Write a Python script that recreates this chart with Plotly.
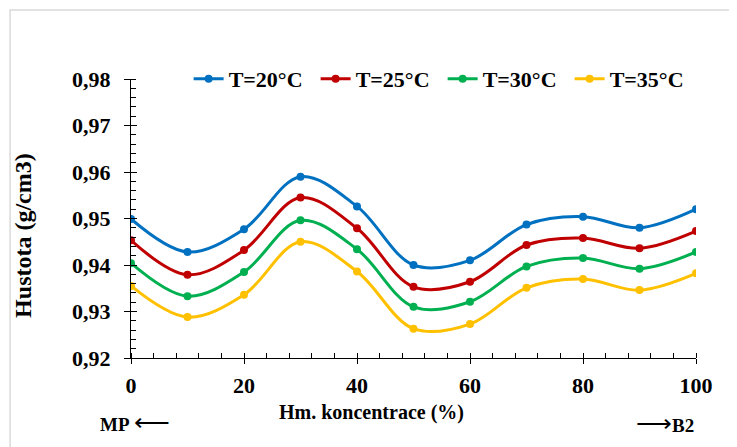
import plotly.graph_objects as go

# ---- data ----
concentration = [0, 10, 20, 30, 40, 50, 60, 70, 80, 90, 100]
series_names = ["T=20°C", "T=25°C", "T=30°C", "T=35°C"]
density_20 = [0.9499, 0.9428, 0.9477, 0.9590, 0.9526, 0.9400, 0.9410, 0.9487, 0.9504, 0.9480, 0.9520]
density_25 = [0.9453, 0.9379, 0.9432, 0.9545, 0.9479, 0.9353, 0.9364, 0.9443, 0.9458, 0.9436, 0.9473]
density_30 = [0.9404, 0.9333, 0.9385, 0.9496, 0.9434, 0.9310, 0.9321, 0.9397, 0.9415, 0.9392, 0.9428]
density_35 = [0.9355, 0.9288, 0.9336, 0.9450, 0.9386, 0.9263, 0.9273, 0.9351, 0.9370, 0.9346, 0.9382]
x_ticks = [0, 20, 40, 60, 80, 100]
y_ticks = [0.92, 0.93, 0.94, 0.95, 0.96, 0.97, 0.98]

colors = ["#0070C0", "#C00000", "#00B050", "#FFC000"]
FONT = "Liberation Serif, Times New Roman, serif"

fig = go.Figure()
for name, vals, col in zip(series_names, [density_20, density_25, density_30, density_35], colors):
    fig.add_trace(go.Scatter(
        x=concentration, y=vals, name=name, mode="lines+markers",
        line=dict(color=col, width=3, shape="spline", smoothing=1.0),
        marker=dict(color=col, size=8),
    ))

# invisible helper trace so the overlay axes (inner half of crossing ticks) are drawn
fig.add_trace(go.Scatter(x=[None], y=[None], xaxis="x2", yaxis="y2",
                         showlegend=False, hoverinfo="skip"))

axis_common = dict(showgrid=False, zeroline=False, showline=True, linecolor="black",
                   linewidth=1.3, tickcolor="black", tickwidth=1.3)

# the page body adds an 8px offset, margins compensate for it
fig.update_layout(
    width=737, height=447,
    margin=dict(l=123, r=49, t=71, b=97, autoexpand=False),
    paper_bgcolor="white", plot_bgcolor="white",
    separators=", ",
    font=dict(family=FONT, color="black"),
    showlegend=True,
    legend=dict(orientation="h", x=0.102, xanchor="left", y=1.0, yanchor="middle",
                font=dict(family=FONT, size=22, color="black", weight="bold"),
                entrywidth=82, entrywidthmode="pixels", bgcolor="rgba(0,0,0,0)",
                itemclick=False),
    xaxis=dict(range=[0, 100], tickvals=x_ticks, ticks="outside", ticklen=5,
               minor=dict(dtick=4, ticks="inside", ticklen=5, tickcolor="black", tickwidth=1),
               tickfont=dict(family=FONT, size=22, color="black", weight="bold"),
               ticklabelstandoff=2,
               anchor="y", **axis_common),
    yaxis=dict(range=[0.92, 0.98], tickvals=y_ticks, tickformat=".2f", ticks="outside", ticklen=6,
               minor=dict(dtick=0.002, ticks="inside", ticklen=5, tickcolor="black", tickwidth=1),
               tickfont=dict(family=FONT, size=22, color="black", weight="bold"),
               ticklabelstandoff=9,
               anchor="x", **axis_common),
    xaxis2=dict(range=[0, 100], tickvals=x_ticks, ticks="inside", ticklen=5, overlaying="x",
                showticklabels=False, showgrid=False, zeroline=False, showline=False,
                tickcolor="black", tickwidth=1.3, anchor="y2", side="bottom"),
    yaxis2=dict(range=[0.92, 0.98], tickvals=y_ticks, ticks="inside", ticklen=6, overlaying="y",
                showticklabels=False, showgrid=False, zeroline=False, showline=False,
                tickcolor="black", tickwidth=1.3, anchor="x2", side="left"),
)

# outer light border of the chart object
fig.add_shape(type="rect", xref="paper", yref="paper", x0=-0.214, x1=1.3, y0=-0.6, y1=1.247,
              line=dict(color="#D9D9D9", width=1.5), fillcolor="rgba(0,0,0,0)", layer="below")

# axis titles and end labels
fig.add_annotation(text="<b>Hustota (g/cm3)</b>", xref="paper", yref="paper", textangle=-90,
                   x=-0.19, y=0.44, xanchor="center", yanchor="middle", showarrow=False,
                   font=dict(family=FONT, size=24, color="black"))
fig.add_annotation(text="<b>Hm. koncentrace (%)</b>", xref="paper", yref="paper",
                   x=0.425, y=-0.195, xanchor="center", yanchor="middle", showarrow=False,
                   font=dict(family=FONT, size=20, color="black"))
fig.add_annotation(text="<b>MP</b> <span style='font-size:25px'>⟵</span>", xref="paper", yref="paper",
                   x=-0.058, y=-0.23, xanchor="left", yanchor="middle", showarrow=False,
                   font=dict(family=FONT, size=19, color="black"))
fig.add_annotation(text="<span style='font-size:25px'>⟶</span><b>B2</b>", xref="paper", yref="paper",
                   x=1.0, y=-0.235, xanchor="right", yanchor="middle", showarrow=False,
                   font=dict(family=FONT, size=19, color="black"))

fig.write_html("out.html")
